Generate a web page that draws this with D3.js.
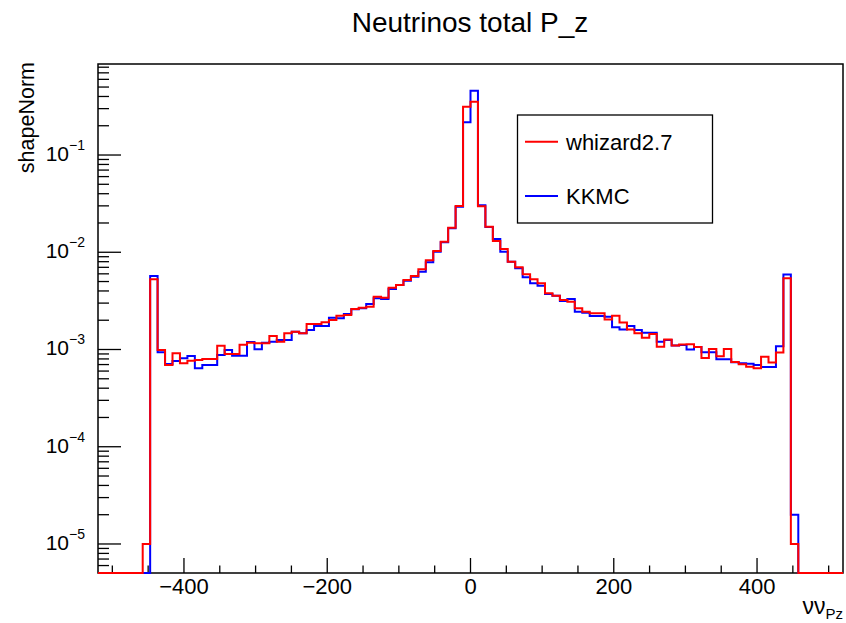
<!DOCTYPE html>
<html>
<head>
<meta charset="utf-8">
<script src="https://cdn.jsdelivr.net/npm/d3@7"></script>
<style>
  body { margin: 0; background: #fff; }
  text { font-family: "Liberation Sans", Arial, Helvetica, sans-serif; fill: #000; }
</style>
</head>
<body>
<svg id="chart" width="846" height="623"></svg>
<script>
// histogram binning: 100 bins over [-520, 520]
const nBins = 100, xMin = -520, xMax = 520;

// whizard2.7 (red), bin contents 0..99
const whizard = [
  0, 0, 0, 0, 0, 0, 1.0e-5, 5.27e-3, 9.88e-4, 6.93e-4,
  9.13e-4, 7.21e-4, 7.68e-4, 7.80e-4, 7.98e-4, 7.98e-4, 1.095e-3, 8.99e-4, 8.99e-4, 1.121e-3,
  1.175e-3, 1.157e-3, 1.157e-3, 1.376e-3, 1.204e-3, 1.466e-3, 1.525e-3, 1.466e-3, 1.83e-3, 1.83e-3,
  1.903e-3, 2.01e-3, 2.228e-3, 2.264e-3, 2.609e-3, 2.692e-3, 2.757e-3, 3.494e-3, 3.411e-3, 4.324e-3,
  4.605e-3, 5.18e-3, 5.70e-3, 6.67e-3, 8.3e-3, 1.03e-2, 1.284e-2, 1.79e-2, 2.99e-2, 0.314,
  0.353, 2.98e-2, 1.83e-2, 1.305e-2, 1.08e-2, 7.99e-3, 7.0e-3, 5.93e-3, 5.27e-3, 4.79e-3,
  3.78e-3, 3.57e-3, 3.23e-3, 3.10e-3, 2.65e-3, 2.45e-3, 2.36e-3, 2.36e-3, 2.04e-3, 2.23e-3,
  1.89e-3, 1.61e-3, 1.47e-3, 1.32e-3, 1.44e-3, 1.07e-3, 1.27e-3, 1.10e-3, 1.125e-3, 1.13e-3,
  1.06e-3, 8.18e-4, 1.01e-3, 8.51e-4, 1.01e-3, 7.44e-4, 7.05e-4, 6.65e-4, 6.41e-4, 8.43e-4,
  7.35e-4, 9.31e-4, 5.40e-3, 1.0e-5, 0, 0, 0, 0, 0, 0
];

// KKMC (blue), bin contents 0..99
const kkmc = [
  0, 0, 0, 0, 0, 0, 0, 5.70e-3, 9.35e-4, 7.09e-4,
  7.62e-4, 8.11e-4, 8.57e-4, 6.40e-4, 6.93e-4, 6.93e-4, 8.78e-4, 9.88e-4, 8.64e-4, 8.64e-4,
  1.194e-3, 1.004e-3, 1.175e-3, 1.204e-3, 1.252e-3, 1.252e-3, 1.525e-3, 1.466e-3, 1.586e-3, 1.744e-3,
  1.744e-3, 2.125e-3, 2.091e-3, 2.317e-3, 2.588e-3, 2.65e-3, 2.937e-3, 3.359e-3, 3.306e-3, 4.19e-3,
  4.605e-3, 5.10e-3, 5.61e-3, 6.31e-3, 7.9e-3, 1.014e-2, 1.264e-2, 1.762e-2, 2.94e-2, 0.217,
  0.458, 3.05e-2, 1.82e-2, 1.368e-2, 1.013e-2, 7.99e-3, 6.84e-3, 5.53e-3, 4.79e-3, 4.53e-3,
  3.72e-3, 3.57e-3, 3.15e-3, 3.31e-3, 2.45e-3, 2.39e-3, 2.21e-3, 2.21e-3, 2.17e-3, 1.69e-3,
  1.61e-3, 1.74e-3, 1.59e-3, 1.49e-3, 1.49e-3, 1.20e-3, 1.25e-3, 1.10e-3, 1.11e-3, 1.0e-3,
  1.06e-3, 9.36e-4, 9.36e-4, 7.93e-4, 7.93e-4, 7.40e-4, 7.21e-4, 7.14e-4, 6.93e-4, 6.61e-4,
  6.61e-4, 1.08e-3, 5.90e-3, 2.0e-5, 0, 0, 0, 0, 0, 0
];

const xTicks = [-400, -200, 0, 200, 400];
const yDecades = [1e-5, 1e-4, 1e-3, 1e-2, 1e-1];
const seriesNames = ["whizard2.7", "KKMC"];
const seriesColors = ["#ff0000", "#0000ff"];

const svg = d3.select("#chart");
const fLeft = 98, fRight = 843, fTop = 64, fBottom = 573;

const x = d3.scaleLinear().domain([xMin, xMax]).range([fLeft, fRight]);
const y = d3.scaleLog().domain([5.03e-6, 0.863]).range([fBottom, fTop]).clamp(true);
const yMin = y.domain()[0];
const binW = (xMax - xMin) / nBins;

// frame
svg.append("rect")
  .attr("x", fLeft).attr("y", fTop)
  .attr("width", fRight - fLeft).attr("height", fBottom - fTop)
  .attr("fill", "none").attr("stroke", "#000").attr("stroke-width", 1.5);

// x axis ticks: major every 200, minor every 50
const xMinor = d3.range(-500, 501, 50).filter(function(v) { return v % 200 !== 0; });
const xg = svg.append("g");
xg.selectAll(".xmaj").data(xTicks).enter().append("line")
  .attr("x1", function(d) { return x(d); }).attr("x2", function(d) { return x(d); })
  .attr("y1", fBottom).attr("y2", fBottom - 15)
  .attr("stroke", "#000").attr("stroke-width", 1.3);
xg.selectAll(".xmin").data(xMinor).enter().append("line")
  .attr("x1", function(d) { return x(d); }).attr("x2", function(d) { return x(d); })
  .attr("y1", fBottom).attr("y2", fBottom - 7.5)
  .attr("stroke", "#000").attr("stroke-width", 1.3);
xg.selectAll(".xlab").data(xTicks).enter().append("text")
  .attr("x", function(d) { return x(d); })
  .attr("y", 594)
  .attr("text-anchor", "middle")
  .style("font-size", "22px")
  .text(function(d) { return d3.format("d")(d); });

// y axis ticks (log)
const yMinorVals = [];
[1e-6, 1e-5, 1e-4, 1e-3, 1e-2, 1e-1].forEach(function(dec) {
  for (let k = 2; k <= 9; k++) {
    const v = k * dec;
    if (v >= yMin && v <= y.domain()[1]) yMinorVals.push(v);
  }
});
const yg = svg.append("g");
yg.selectAll(".ymaj").data(yDecades).enter().append("line")
  .attr("x1", fLeft).attr("x2", fLeft + 23)
  .attr("y1", function(d) { return y(d); }).attr("y2", function(d) { return y(d); })
  .attr("stroke", "#000").attr("stroke-width", 1.3);
yg.selectAll(".ymin").data(yMinorVals).enter().append("line")
  .attr("x1", fLeft).attr("x2", fLeft + 11)
  .attr("y1", function(d) { return y(d); }).attr("y2", function(d) { return y(d); })
  .attr("stroke", "#000").attr("stroke-width", 1.3);
const ylab = yg.selectAll(".ylab").data(yDecades).enter().append("text")
  .attr("x", 85)
  .attr("y", function(d) { return y(d) + 6; })
  .attr("text-anchor", "end")
  .style("font-size", "21px");
ylab.append("tspan").text("10");
ylab.append("tspan")
  .attr("dy", -11)
  .style("font-size", "14px")
  .text(function(d) { return "\u2212" + Math.round(-Math.log10(d)); });

// histograms
function histPoints(vals) {
  const pts = [[xMin, 0]];
  vals.forEach(function(v, i) {
    const lo = xMin + i * binW, hi = lo + binW;
    pts.push([lo, v]);
    pts.push([hi, v]);
  });
  pts.push([xMax, 0]);
  return pts;
}
const line = d3.line()
  .x(function(d) { return x(d[0]); })
  .y(function(d) { return d[1] > 0 ? y(d[1]) : y(yMin); });

// KKMC first, whizard on top
[[kkmc, seriesColors[1]], [whizard, seriesColors[0]]].forEach(function(s) {
  svg.append("path")
    .datum(histPoints(s[0]))
    .attr("d", line)
    .attr("fill", "none")
    .attr("stroke", s[1])
    .attr("stroke-width", 2);
});

// title
svg.append("text")
  .attr("x", 470).attr("y", 32)
  .attr("text-anchor", "middle")
  .style("font-size", "28px")
  .text("Neutrinos total P_z");

// y title
svg.append("text")
  .attr("transform", "translate(34,62) rotate(-90)")
  .attr("text-anchor", "end")
  .style("font-size", "21.5px")
  .text("shapeNorm");

// x title
const xt = svg.append("text")
  .attr("x", 843).attr("y", 614)
  .attr("text-anchor", "end")
  .style("font-size", "23px");
xt.append("tspan").text("\u03bd\u03bd");
xt.append("tspan").attr("dy", 5).style("font-size", "15px").text("Pz");

// legend
const lg = svg.append("g");
lg.append("rect")
  .attr("x", 517.5).attr("y", 115)
  .attr("width", 195).attr("height", 108)
  .attr("fill", "#fff").attr("stroke", "#000").attr("stroke-width", 1.3);
const legRows = lg.selectAll(".row").data(seriesNames).enter().append("g")
  .attr("transform", function(d, i) { return "translate(0," + (141.7 + i * 54.3) + ")"; });
legRows.append("line")
  .attr("x1", 525).attr("x2", 558).attr("y1", 0).attr("y2", 0)
  .attr("stroke", function(d, i) { return seriesColors[i]; })
  .attr("stroke-width", 2);
legRows.append("text")
  .attr("x", 566).attr("y", 8)
  .style("font-size", "22px")
  .text(function(d) { return d; });
</script>
</body>
</html>
